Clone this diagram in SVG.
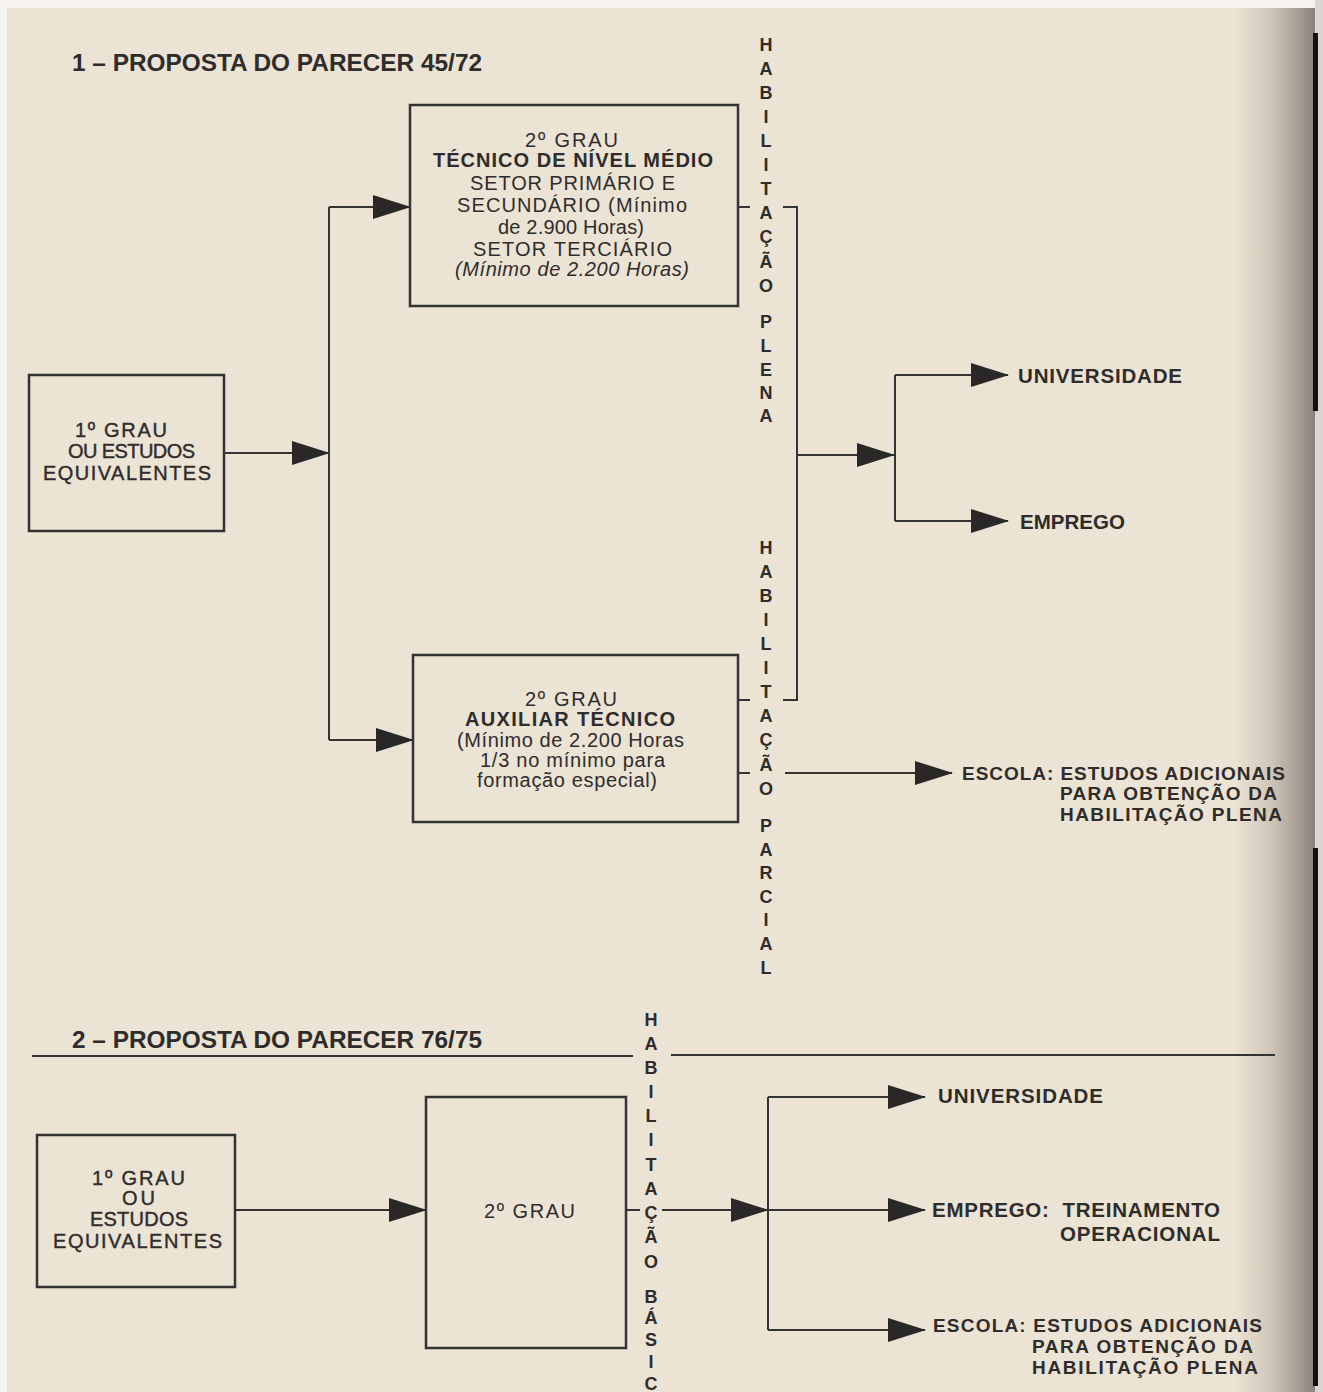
<svg xmlns="http://www.w3.org/2000/svg" width="1323" height="1392" viewBox="0 0 1323 1392">
<defs>
<style>
.t{font-family:"Liberation Sans",Arial,sans-serif;fill:#2f2c2c;font-size:20px}
.b{font-weight:bold}
.m{stroke:#2f2c2c;stroke-width:0.4}
.i{font-style:italic}
.ttl{font-size:23px;font-weight:bold}
.lab{font-size:20.5px;font-weight:bold}
.lab2{font-size:19px;font-weight:bold}
.v{font-family:"Liberation Sans",Arial,sans-serif;fill:#2f2c2c;font-size:18px;font-weight:bold;text-anchor:middle}
.box{fill:none;stroke:#333;stroke-width:2.5}
.ln{fill:none;stroke:#333;stroke-width:2}
.ar{fill:none;stroke:#333;stroke-width:2;marker-end:url(#ah)}
</style>
<marker id="ah" markerUnits="userSpaceOnUse" markerWidth="38" markerHeight="24" refX="37" refY="12" orient="auto">
<path d="M0,0 L38,12 L0,24 Z" fill="#2a2727"/>
</marker>
<linearGradient id="edge" x1="0" y1="0" x2="1" y2="0">
<stop offset="0" stop-color="#ebe3d3"/>
<stop offset="0.45" stop-color="#cfc6b9"/>
<stop offset="0.8" stop-color="#a59c94"/>
<stop offset="1" stop-color="#8a817a"/>
</linearGradient>
</defs>
<rect x="0" y="0" width="1323" height="1392" fill="#ebe3d3"/>
<rect x="0" y="0" width="1323" height="8" fill="#f6f3ee"/>
<rect x="0" y="0" width="7" height="1392" fill="#f6f3ee"/>
<rect x="1235" y="8" width="80" height="1384" fill="url(#edge)"/>
<rect x="1315" y="0" width="8" height="1392" fill="#d9d6d2"/>
<rect x="1313" y="33" width="5" height="378" fill="#111"/>
<rect x="1313" y="848" width="5" height="538" fill="#111"/>

<g id="titles">
<text class="t ttl" x="72" y="71" textLength="410" lengthAdjust="spacingAndGlyphs">1 – PROPOSTA DO PARECER 45/72</text>
<text class="t ttl" x="72" y="1048" textLength="410" lengthAdjust="spacingAndGlyphs">2 – PROPOSTA DO PARECER 76/75</text>
<line class="ln" x1="32" y1="1056" x2="633" y2="1056"/>
<line class="ln" x1="671" y1="1055" x2="1275" y2="1055"/>
</g>

<g id="connectors">
<line class="ar" x1="224" y1="453" x2="329" y2="453"/>
<line class="ln" x1="329" y1="207" x2="329" y2="740"/>
<line class="ar" x1="329" y1="207" x2="410" y2="207"/>
<line class="ar" x1="329" y1="740" x2="413" y2="740"/>
<line class="ln" x1="738" y1="207" x2="750" y2="207"/>
<polyline class="ln" points="783,207 797,207 797,700 783,700"/>
<line class="ln" x1="738" y1="700" x2="750" y2="700"/>
<line class="ar" x1="797" y1="455" x2="894" y2="455"/>
<line class="ln" x1="895" y1="375" x2="895" y2="521"/>
<line class="ar" x1="895" y1="375" x2="1008" y2="375"/>
<line class="ar" x1="895" y1="521" x2="1008" y2="521"/>
<line class="ln" x1="738" y1="773" x2="750" y2="773"/>
<line class="ar" x1="785" y1="773" x2="952" y2="773"/>
<line class="ar" x1="235" y1="1210" x2="426" y2="1210"/>
<line class="ln" x1="626" y1="1210" x2="640" y2="1210"/>
<line class="ar" x1="662" y1="1210" x2="768" y2="1210"/>
<line class="ln" x1="768" y1="1097" x2="768" y2="1330"/>
<line class="ar" x1="768" y1="1097" x2="925" y2="1097"/>
<line class="ar" x1="768" y1="1210" x2="925" y2="1210"/>
<line class="ar" x1="768" y1="1330" x2="925" y2="1330"/>
</g>

<g id="n-1grau-a">
<rect class="box" x="29" y="375" width="195" height="156"/>
<text class="t m" x="75" y="437" textLength="92">1º GRAU</text>
<text class="t m" x="68" y="458" textLength="127">OU ESTUDOS</text>
<text class="t m" x="43" y="480" textLength="168">EQUIVALENTES</text>
</g>

<g id="n-tecnico">
<rect class="box" x="410" y="105" width="328" height="201"/>
<text class="t" x="525" y="147" textLength="93">2º GRAU</text>
<text class="t b" x="433" y="167" textLength="280">TÉCNICO DE NÍVEL MÉDIO</text>
<text class="t" x="470" y="190" textLength="205">SETOR PRIMÁRIO E</text>
<text class="t" x="457" y="212" textLength="230">SECUNDÁRIO (Mínimo</text>
<text class="t" x="498" y="234" textLength="146">de 2.900 Horas)</text>
<text class="t" x="473" y="256" textLength="199">SETOR TERCIÁRIO</text>
<text class="t i" x="455" y="276" textLength="234">(Mínimo de 2.200 Horas)</text>
</g>

<g id="n-auxiliar">
<rect class="box" x="413" y="655" width="325" height="167"/>
<text class="t" x="525" y="706" textLength="92">2º GRAU</text>
<text class="t b" x="465" y="726" textLength="210">AUXILIAR TÉCNICO</text>
<text class="t" x="457" y="747" textLength="227">(Mínimo de 2.200 Horas</text>
<text class="t" x="480" y="767" textLength="185">1/3 no mínimo para</text>
<text class="t" x="477" y="787" textLength="180">formação especial)</text>
</g>

<g id="n-hab-plena">
<text class="v" x="766" y="51">H</text>
<text class="v" x="766" y="75">A</text>
<text class="v" x="766" y="99">B</text>
<text class="v" x="766" y="123">I</text>
<text class="v" x="766" y="147">L</text>
<text class="v" x="766" y="171">I</text>
<text class="v" x="766" y="195">T</text>
<text class="v" x="766" y="219">A</text>
<text class="v" x="766" y="243">Ç</text>
<text class="v" x="766" y="268">Ã</text>
<text class="v" x="766" y="292">O</text>
<text class="v" x="766" y="328">P</text>
<text class="v" x="766" y="352">L</text>
<text class="v" x="766" y="376">E</text>
<text class="v" x="766" y="399">N</text>
<text class="v" x="766" y="422">A</text>
</g>

<g id="n-hab-parcial">
<text class="v" x="766" y="554">H</text>
<text class="v" x="766" y="578">A</text>
<text class="v" x="766" y="602">B</text>
<text class="v" x="766" y="626">I</text>
<text class="v" x="766" y="650">L</text>
<text class="v" x="766" y="674">I</text>
<text class="v" x="766" y="698">T</text>
<text class="v" x="766" y="722">A</text>
<text class="v" x="766" y="746">Ç</text>
<text class="v" x="766" y="771">Ã</text>
<text class="v" x="766" y="795">O</text>
<text class="v" x="766" y="832">P</text>
<text class="v" x="766" y="856">A</text>
<text class="v" x="766" y="879">R</text>
<text class="v" x="766" y="903">C</text>
<text class="v" x="766" y="926">I</text>
<text class="v" x="766" y="950">A</text>
<text class="v" x="766" y="974">L</text>
</g>

<g id="n-universidade-1">
<text class="t lab" x="1018" y="383" textLength="164">UNIVERSIDADE</text>
</g>
<g id="n-emprego-1">
<text class="t lab" x="1020" y="529" textLength="105">EMPREGO</text>
</g>
<g id="n-escola-1">
<text class="t lab2" x="962" y="780" textLength="323">ESCOLA: ESTUDOS ADICIONAIS</text>
<text class="t lab2" x="1060" y="800" textLength="217">PARA OBTENÇÃO DA</text>
<text class="t lab2" x="1060" y="821" textLength="222">HABILITAÇÃO PLENA</text>
</g>

<g id="n-1grau-b">
<rect class="box" x="37" y="1135" width="198" height="152"/>
<text class="t m" x="92" y="1185" textLength="93">1º GRAU</text>
<text class="t m" x="122" y="1205" textLength="33">OU</text>
<text class="t m" x="90" y="1226" textLength="98">ESTUDOS</text>
<text class="t m" x="53" y="1248" textLength="169">EQUIVALENTES</text>
</g>

<g id="n-2grau">
<rect class="box" x="426" y="1097" width="200" height="251"/>
<text class="t" x="484" y="1218" textLength="91">2º GRAU</text>
</g>

<g id="n-hab-basica">
<text class="v" x="651" y="1026">H</text>
<text class="v" x="651" y="1050">A</text>
<text class="v" x="651" y="1074">B</text>
<text class="v" x="651" y="1098">I</text>
<text class="v" x="651" y="1122">L</text>
<text class="v" x="651" y="1146">I</text>
<text class="v" x="651" y="1171">T</text>
<text class="v" x="651" y="1195">A</text>
<text class="v" x="651" y="1219">Ç</text>
<text class="v" x="651" y="1243">Ã</text>
<text class="v" x="651" y="1268">O</text>
<text class="v" x="651" y="1303">B</text>
<text class="v" x="651" y="1324">Á</text>
<text class="v" x="651" y="1346">S</text>
<text class="v" x="651" y="1368">I</text>
<text class="v" x="651" y="1390">C</text>
</g>

<g id="n-universidade-2">
<text class="t lab" x="938" y="1103" textLength="165">UNIVERSIDADE</text>
</g>
<g id="n-emprego-2">
<text class="t lab" x="932" y="1217" textLength="288" xml:space="preserve">EMPREGO:  TREINAMENTO</text>
<text class="t lab" x="1060" y="1241" textLength="160">OPERACIONAL</text>
</g>
<g id="n-escola-2">
<text class="t lab2" x="933" y="1332" textLength="329">ESCOLA: ESTUDOS ADICIONAIS</text>
<text class="t lab2" x="1032" y="1353" textLength="221">PARA OBTENÇÃO DA</text>
<text class="t lab2" x="1032" y="1374" textLength="226">HABILITAÇÃO PLENA</text>
</g>
</svg>
